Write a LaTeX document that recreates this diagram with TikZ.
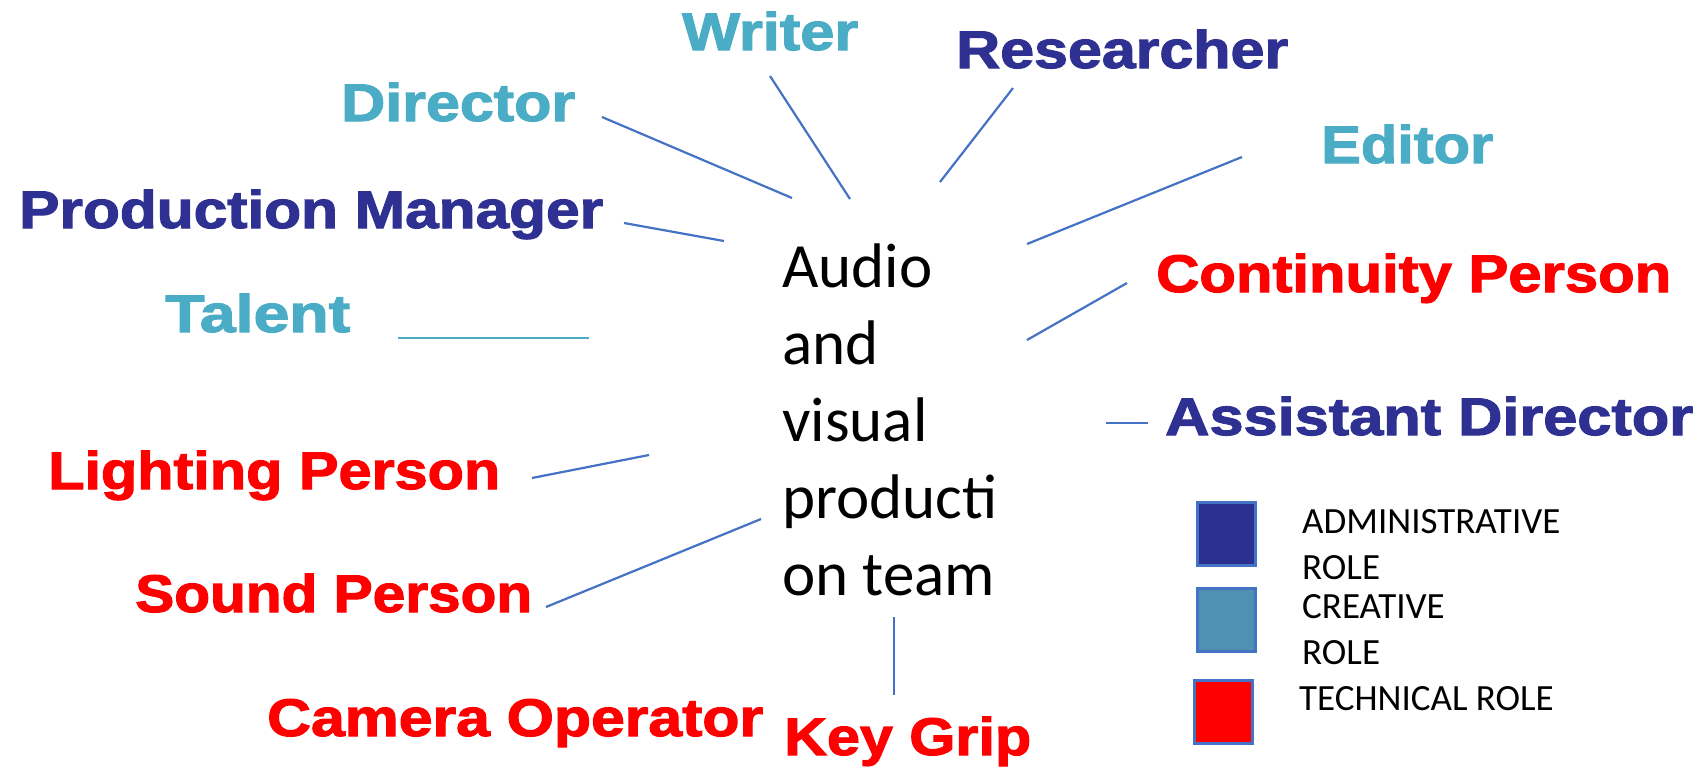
\documentclass[tikz,border=0pt]{standalone}
\usepackage{fontspec}
\setmainfont{Carlito}
\newfontfamily\lblfont[FakeBold=2]{Liberation Sans Bold}
\newcommand\fitw[2]{\resizebox{#1pt}{\height}{#2}}
\definecolor{admin}{HTML}{2E3192}
\definecolor{creative}{HTML}{4BACC6}
\definecolor{tech}{HTML}{FF0000}
\definecolor{link}{HTML}{4472C4}
\definecolor{adminbox}{HTML}{2B2F8F}
\definecolor{creativebox}{HTML}{4F91B0}
\begin{document}
\begin{tikzpicture}[x=1pt,y=-1pt,
  lbl/.style={anchor=base west, inner sep=0pt, font=\lblfont\fontsize{53}{60}\selectfont},
  adm/.style={lbl, text=admin},
  cre/.style={lbl, text=creative},
  tec/.style={lbl, text=tech},
  conn/.style={draw=link, line width=2.2pt},
  legbox/.style={draw=link, line width=2.5pt, minimum width=58pt, minimum height=63pt, inner sep=0pt},
  legtxt/.style={anchor=base west, inner sep=0pt, align=left, font=\fontsize{37}{46}\selectfont}
]
\useasboundingbox (0,0) rectangle (1704,766);

% labels
\node[cre] (writer) at (682,50) {\fitw{176}{Writer}};
\node[adm] (researcher) at (956,68) {\fitw{332}{Researcher}};
\node[cre] (director) at (341,121) {\fitw{234}{Director}};
\node[cre] (editor) at (1321,163) {\fitw{172}{Editor}};
\node[adm] (pm) at (19,228) {\fitw{584}{Production Manager}};
\node[tec] (continuity) at (1156,292) {\fitw{515}{Continuity Person}};
\node[cre] (talent) at (165,332) {\fitw{185}{Talent}};
\node[adm] (assistant) at (1165,435) {\fitw{528}{Assistant Director}};
\node[tec] (lighting) at (48,489) {\fitw{452}{Lighting Person}};
\node[tec] (sound) at (135,612) {\fitw{397}{Sound Person}};
\node[tec] (camera) at (267,736) {\fitw{496}{Camera Operator}};
\node[tec] (keygrip) at (784,755) {\fitw{247}{Key Grip}};

% centre
\node[anchor=north west, inner sep=0pt, align=left, font=\fontsize{63}{77}\selectfont] (centre) at (782,244)
  {Audio\\and\\visual\\producti\\on team};

% connector end points
\coordinate (w1) at (770,76);   \coordinate (w2) at (850,199);
\coordinate (r1) at (1013,88);  \coordinate (r2) at (940,182);
\coordinate (d1) at (602,117);  \coordinate (d2) at (792,198);
\coordinate (e1) at (1242,157); \coordinate (e2) at (1027,244);
\coordinate (p1) at (624,223);  \coordinate (p2) at (724,241);
\coordinate (c1) at (1127,283); \coordinate (c2) at (1027,340);
\coordinate (t1) at (398,338);  \coordinate (t2) at (589,338);
\coordinate (a1) at (1106,423); \coordinate (a2) at (1148,423);
\coordinate (l1) at (532,478);  \coordinate (l2) at (649,455);
\coordinate (s1) at (546,607);  \coordinate (s2) at (761,519);
\coordinate (k1) at (894,617);  \coordinate (k2) at (894,695);

\draw[conn] (w1) -- (w2);
\draw[conn] (r1) -- (r2);
\draw[conn] (d1) -- (d2);
\draw[conn] (e1) -- (e2);
\draw[conn] (p1) -- (p2);
\draw[conn] (c1) -- (c2);
\draw[conn, draw=creative] (t1) -- (t2);
\draw[conn] (a1) -- (a2);
\draw[conn] (l1) -- (l2);
\draw[conn] (s1) -- (s2);
\draw[conn] (k1) -- (k2);

% legend
\node[legbox, fill=adminbox, anchor=north west] (boxa) at (1196,501) {};
\node[legbox, fill=creativebox, anchor=north west] (boxc) at (1196,587) {};
\node[legbox, fill=tech, anchor=north west] (boxt) at (1193,679) {};
\node[legtxt] (txta) at (1302,579) {ADMINISTRATIVE\\ROLE};
\node[legtxt] (txtc) at (1302,664) {CREATIVE\\ROLE};
\node[legtxt] (txtt) at (1299,710) {TECHNICAL ROLE};
\end{tikzpicture}
\end{document}
